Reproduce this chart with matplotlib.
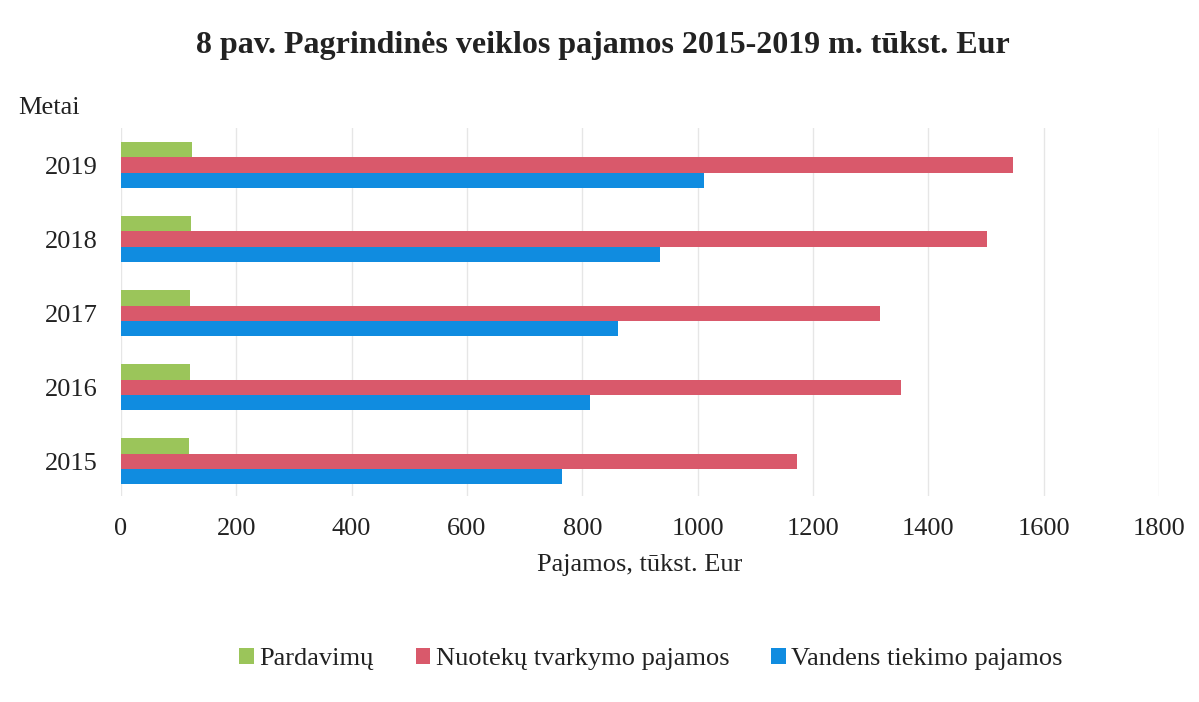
import matplotlib.pyplot as plt
import numpy as np

plt.rcParams['font.family'] = ['Liberation Serif', 'DejaVu Serif']

years = ['2015', '2016', '2017', '2018', '2019']
pardavimu = [118, 120, 120, 122, 123]
nuoteku = [1172, 1353, 1316, 1502, 1547]
vandens = [764, 814, 861, 934, 1011]

names = ['Pardavimų', 'Nuotekų tvarkymo pajamos', 'Vandens tiekimo pajamos']
colors = ['#9BC55A', '#D9596B', '#108CE0']

fig = plt.figure(figsize=(11.99, 7.02), dpi=100)
ax = fig.add_axes([121 / 1199, 1 - 496 / 702, (1159 - 121) / 1199, (496 - 128) / 702])

y = np.arange(len(years))
h = 0.205
ax.barh(y + h, pardavimu, height=h, color=colors[0], label=names[0], zorder=2)
ax.barh(y, nuoteku, height=h, color=colors[1], label=names[1], zorder=2)
ax.barh(y - h, vandens, height=h, color=colors[2], label=names[2], zorder=2)

ax.set_xlim(0, 1800)
ax.set_ylim(-0.47, 4.5)
ax.set_xticks(range(0, 1801, 200))
ax.set_yticks(y)
ax.set_yticklabels(years)
ax.tick_params(axis='both', length=0, labelsize=19, colors='#222222')
ax.tick_params(axis='x', pad=16)
ax.tick_params(axis='y', pad=17)
ax.xaxis.grid(True, color='#E6E6E6', linewidth=1, zorder=0)
for s in ax.spines.values():
    s.set_visible(False)

ax.set_xlabel('Pajamos, tūkst. Eur', fontsize=19, color='#222222', labelpad=10)
fig.text(18 / 1199, 1 - 108 / 702, 'Metai', fontsize=19, color='#222222', va='center')
fig.text(603 / 1199, 1 - 45 / 702, '8 pav. Pagrindinės veiklos pajamos 2015-2019 m. tūkst. Eur',
         fontsize=23, fontweight='bold', ha='center', va='center', color='#222222')

fig.legend(loc='center', bbox_to_anchor=(651 / 1199, 1 - 659 / 702), ncol=3, frameon=False,
           fontsize=19, handlelength=0.55, handleheight=0.55, handletextpad=0.2, columnspacing=1.6,
           labelcolor='#222222')

fig.savefig('out.png', dpi=100)
